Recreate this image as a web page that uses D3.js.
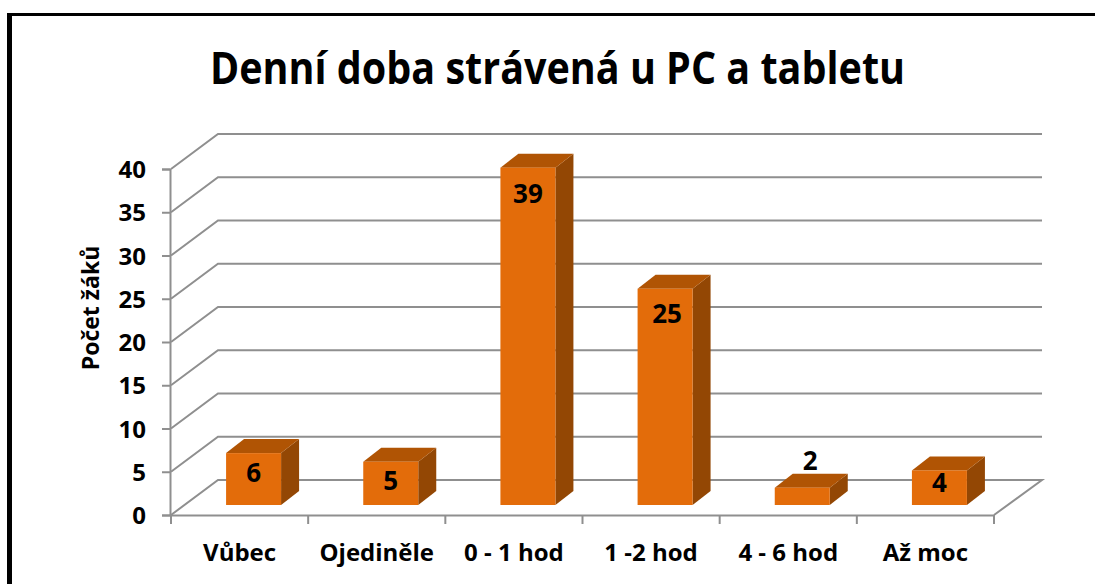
<!DOCTYPE html>
<html><head><meta charset="utf-8">
<script src="https://cdn.jsdelivr.net/npm/d3@7"></script>
<style>html,body{margin:0;padding:0;background:#fff}svg{display:block}
text{font-family:"Open Sans",sans-serif;font-weight:700;fill:#000}</style></head>
<body><svg id="c" width="1095" height="584"></svg>
<script>
const categories=["Vůbec","Ojediněle","0 - 1 hod","1 -2 hod","4 - 6 hod","Až moc"];
const values=[6,5,39,25,2,4];
const yTicks=[0,5,10,15,20,25,30,35,40];
const titleText="Denní doba strávená u PC a tabletu";
const yTitle="Počet žáků";

const svg=d3.select("#c");
const W=1095,H=584;
const GRID="#8f8f8f",FRONT="#e36c0a",TOP="#b05404",SIDE="#934704";
const x=d3.scaleBand().domain(categories).range([171,994]);
const y=d3.scaleLinear().domain([0,40]).range([515,169]);
const wall={dx:47,dy:-35};   // depth of the 3D floor
const bar={w:55,dx:18,dy:-14,fx:14,base:-10}; // bar box geometry
const labelDrop={6:20,5:19,39:26,25:25,2:-27,4:12}; // hand-placed label centres, relative to each bar top
const labelShift={25:2,2:8};

// frame
svg.append("path").attr("d",`M9.5,${H} V14.5 H${W}`).attr("fill","none").attr("stroke","#000").attr("stroke-width",3);
svg.append("rect").attr("x",7).attr("y",13).attr("width",5).attr("height",H-13).attr("fill","#000");

svg.append("text").attr("x",557.5).attr("y",84).attr("text-anchor","middle").attr("font-size",44)
 .attr("textLength",695).attr("lengthAdjust","spacingAndGlyphs").text(titleText);

// grid
const g=svg.append("g").attr("fill","none").attr("stroke",GRID).attr("stroke-width",2);
g.selectAll("path.g").data(yTicks).join("path").attr("class","g")
 .attr("d",v=>v===0
   ?`M${x.range()[0]},${y(0)} L${x.range()[0]+wall.dx},${y(0)+wall.dy} H${x.range()[1]+wall.dx+1} L${x.range()[1]},${y(0)}`
   :`M${x.range()[0]},${y(v)} L${x.range()[0]+wall.dx},${y(v)+wall.dy} H${x.range()[1]+wall.dx+1}`);

// axes
const ay=d3.axisLeft(y).tickValues(yTicks).tickSize(8).tickPadding(16);
const gy=svg.append("g").attr("transform","translate(170,0)").call(ay);
const ax=d3.axisBottom(x).tickSize(0).tickPadding(0);
const gx=svg.append("g").attr("transform",`translate(0,${y(0)})`).call(ax);
[gy,gx].forEach(a=>{a.selectAll("path.domain").attr("stroke",GRID).attr("stroke-width",2);
  a.selectAll(".tick line").attr("stroke",GRID).attr("stroke-width",2);});
gy.selectAll("text").attr("font-size",24).attr("font-family",'"Open Sans",sans-serif').attr("font-weight",700).attr("fill","#000").attr("dy","0.36em");
gx.selectAll("text").attr("font-size",24).attr("font-family",'"Open Sans",sans-serif').attr("font-weight",700).attr("fill","#000").attr("y",37).attr("dy","0.36em");
svg.append("g").attr("stroke",GRID).attr("stroke-width",2).selectAll("line")
 .data([...categories.map(c=>x(c)),x.range()[1]]).join("line")
 .attr("x1",d=>d).attr("x2",d=>d).attr("y1",y(0)).attr("y2",y(0)+9);

svg.append("text").attr("transform","translate(99,308) rotate(-90)").attr("text-anchor","middle").attr("font-size",23).text(yTitle);

// bars
const bx=c=>x(c)+x.bandwidth()/2-bar.w/2+bar.fx;
const by=v=>y(v)+bar.base;
const yb=y(0)+bar.base;
const gb=svg.append("g").selectAll("g").data(categories.map((c,i)=>({c,v:values[i]}))).join("g");
gb.append("path").attr("fill",SIDE).attr("d",d=>{const l=bx(d.c)+bar.w;
  return `M${l},${by(d.v)} l${bar.dx},${bar.dy} V${yb+bar.dy} l${-bar.dx},${-bar.dy} Z`;});
gb.append("path").attr("fill",TOP).attr("d",d=>{const l=bx(d.c);
  return `M${l},${by(d.v)} l${bar.dx},${bar.dy} h${bar.w} l${-bar.dx},${-bar.dy} Z`;});
gb.append("rect").attr("fill",FRONT).attr("x",d=>bx(d.c)).attr("y",d=>by(d.v)).attr("width",bar.w).attr("height",d=>yb-by(d.v));
gb.append("text").attr("text-anchor","middle").attr("font-size",26).attr("x",d=>bx(d.c)+bar.w/2+(labelShift[d.v]||0))
  .attr("dy","0.36em").attr("y",d=>by(d.v)+labelDrop[d.v]).text(d=>d.v);
</script></body></html>
